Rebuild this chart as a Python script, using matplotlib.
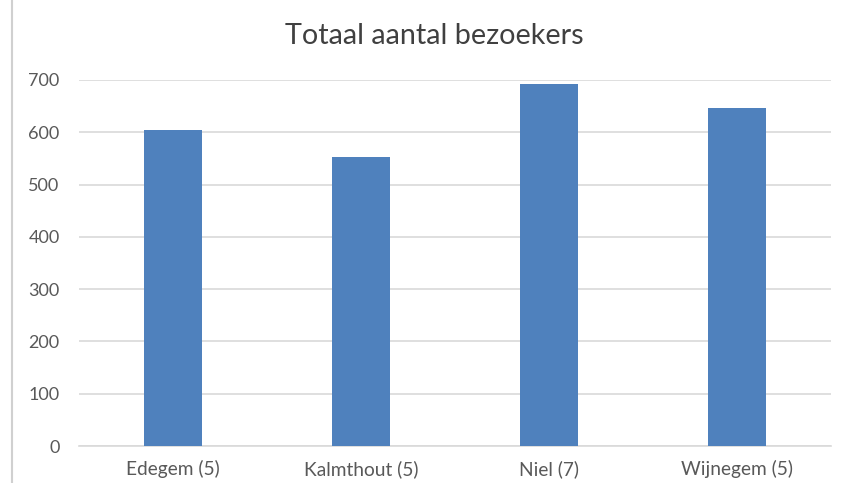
import matplotlib.pyplot as plt
from matplotlib.lines import Line2D

# data
gemeenten = ['Edegem (5)', 'Kalmthout (5)', 'Niel (7)', 'Wijnegem (5)']
bezoekers = [604, 553, 693, 646]
y_ticks = [0, 100, 200, 300, 400, 500, 600, 700]

plt.rcParams['font.family'] = ['Lato', 'DejaVu Sans']

fig = plt.figure(figsize=(8.44, 4.83), dpi=100)
ax = fig.add_axes([0.0936, 0.0766, 0.891, 0.7578])

ax.bar(range(len(gemeenten)), bezoekers, width=0.31, color='#4F81BD', zorder=3)

ax.set_xlim(-0.5, len(gemeenten) - 0.5)
ax.set_ylim(0, 700)
ax.set_yticks(y_ticks)
ax.set_xticks(range(len(gemeenten)))
ax.set_xticklabels(gemeenten, fontsize=13.8)
ax.grid(axis='y', color='#D9D9D9', linewidth=1.2, zorder=0)
for s in ['top', 'right', 'left']:
    ax.spines[s].set_visible(False)
ax.spines['bottom'].set_color('#D9D9D9')
ax.spines['bottom'].set_linewidth(1.2)
ax.tick_params(axis='y', length=0, labelsize=13, colors='#595959', pad=14)
ax.tick_params(axis='x', length=0, colors='#595959', pad=10)

fig.text(0.515, 0.925, 'Totaal aantal bezoekers', ha='center', va='center',
         fontsize=20.7, color='#404040')

# chart border on the left
fig.add_artist(Line2D([0.0142, 0.0142], [0, 1], color='#D0D0D0', linewidth=1.5,
                      transform=fig.transFigure))

fig.savefig('out.png', dpi=100)
